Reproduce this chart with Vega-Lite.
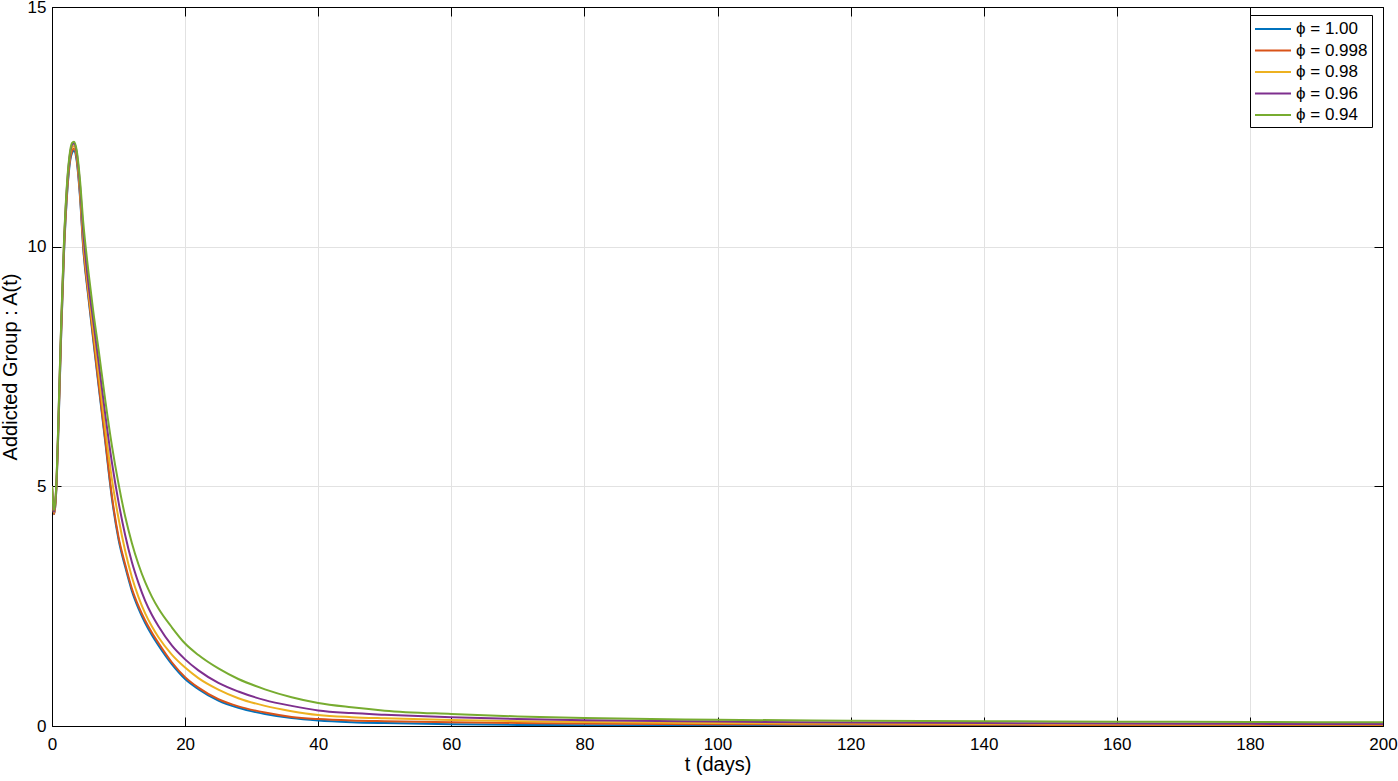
{
"$schema": "https://vega.github.io/schema/vega-lite/v6.json",
"width": 1331, "height": 719,
"autosize": {"type": "none"},
"padding": {"left": 52, "top": 7, "right": 15, "bottom": 55},
"background": "white",
"config": {
  "view": {"stroke": "black", "strokeWidth": 1},
  "font": "Liberation Sans",
  "axis": {"domainColor": "black", "tickColor": "black", "labelColor": "black", "titleColor": "black", "gridColor": "#e2e2e2", "labelFont": "Liberation Sans", "titleFont": "Liberation Sans", "titleFontWeight": "normal", "labelFontSize": 17, "titleFontSize": 20}
},
"data": {"values": [
{"s":"ϕ = 1.00","t":0,"A":5.0},{"s":"ϕ = 1.00","t":0.15,"A":4.6},{"s":"ϕ = 1.00","t":0.3,"A":4.42},{"s":"ϕ = 1.00","t":0.5,"A":4.6},{"s":"ϕ = 1.00","t":0.7,"A":5.08},{"s":"ϕ = 1.00","t":1.0,"A":6.35},{"s":"ϕ = 1.00","t":1.4,"A":8.25},{"s":"ϕ = 1.00","t":1.8,"A":9.85},{"s":"ϕ = 1.00","t":2.2,"A":10.95},{"s":"ϕ = 1.00","t":2.6,"A":11.65},{"s":"ϕ = 1.00","t":3.0,"A":11.95},{"s":"ϕ = 1.00","t":3.3,"A":12.0},{"s":"ϕ = 1.00","t":3.7,"A":11.8},{"s":"ϕ = 1.00","t":4.2,"A":11.05},{"s":"ϕ = 1.00","t":4.7,"A":9.95},{"s":"ϕ = 1.00","t":5.5,"A":8.9},{"s":"ϕ = 1.00","t":6.2,"A":8.05},{"s":"ϕ = 1.00","t":7.0,"A":7.1},{"s":"ϕ = 1.00","t":8.0,"A":5.93},{"s":"ϕ = 1.00","t":9.0,"A":4.75},{"s":"ϕ = 1.00","t":10,"A":3.89},{"s":"ϕ = 1.00","t":11,"A":3.32},{"s":"ϕ = 1.00","t":12,"A":2.82},{"s":"ϕ = 1.00","t":13,"A":2.45},{"s":"ϕ = 1.00","t":14,"A":2.15},{"s":"ϕ = 1.00","t":15,"A":1.9},{"s":"ϕ = 1.00","t":16,"A":1.68},{"s":"ϕ = 1.00","t":18,"A":1.29},{"s":"ϕ = 1.00","t":20,"A":0.98},{"s":"ϕ = 1.00","t":22,"A":0.77},{"s":"ϕ = 1.00","t":25,"A":0.53},{"s":"ϕ = 1.00","t":28,"A":0.38},{"s":"ϕ = 1.00","t":32,"A":0.25},{"s":"ϕ = 1.00","t":36,"A":0.165},{"s":"ϕ = 1.00","t":40,"A":0.115},{"s":"ϕ = 1.00","t":45,"A":0.08},{"s":"ϕ = 1.00","t":50,"A":0.06},{"s":"ϕ = 1.00","t":60,"A":0.035},{"s":"ϕ = 1.00","t":70,"A":0.022},{"s":"ϕ = 1.00","t":80,"A":0.015},{"s":"ϕ = 1.00","t":100,"A":0.008},{"s":"ϕ = 1.00","t":120,"A":0.005},{"s":"ϕ = 1.00","t":140,"A":0.004},{"s":"ϕ = 1.00","t":160,"A":0.003},{"s":"ϕ = 1.00","t":180,"A":0.002},{"s":"ϕ = 1.00","t":200,"A":0.002},
{"s":"ϕ = 0.998","t":0,"A":5.0},{"s":"ϕ = 0.998","t":0.15,"A":4.6},{"s":"ϕ = 0.998","t":0.3,"A":4.42},{"s":"ϕ = 0.998","t":0.5,"A":4.6},{"s":"ϕ = 0.998","t":0.7,"A":5.1},{"s":"ϕ = 0.998","t":1.0,"A":6.4},{"s":"ϕ = 0.998","t":1.4,"A":8.3},{"s":"ϕ = 0.998","t":1.8,"A":9.9},{"s":"ϕ = 0.998","t":2.2,"A":11.0},{"s":"ϕ = 0.998","t":2.6,"A":11.7},{"s":"ϕ = 0.998","t":3.0,"A":12.0},{"s":"ϕ = 0.998","t":3.3,"A":12.05},{"s":"ϕ = 0.998","t":3.7,"A":11.85},{"s":"ϕ = 0.998","t":4.2,"A":11.1},{"s":"ϕ = 0.998","t":4.7,"A":10.0},{"s":"ϕ = 0.998","t":5.5,"A":8.95},{"s":"ϕ = 0.998","t":6.2,"A":8.1},{"s":"ϕ = 0.998","t":7.0,"A":7.15},{"s":"ϕ = 0.998","t":8.0,"A":5.98},{"s":"ϕ = 0.998","t":9.0,"A":4.8},{"s":"ϕ = 0.998","t":10,"A":3.94},{"s":"ϕ = 0.998","t":11,"A":3.37},{"s":"ϕ = 0.998","t":12,"A":2.87},{"s":"ϕ = 0.998","t":13,"A":2.5},{"s":"ϕ = 0.998","t":14,"A":2.2},{"s":"ϕ = 0.998","t":15,"A":1.95},{"s":"ϕ = 0.998","t":16,"A":1.73},{"s":"ϕ = 0.998","t":18,"A":1.33},{"s":"ϕ = 0.998","t":20,"A":1.02},{"s":"ϕ = 0.998","t":22,"A":0.8},{"s":"ϕ = 0.998","t":25,"A":0.56},{"s":"ϕ = 0.998","t":28,"A":0.41},{"s":"ϕ = 0.998","t":32,"A":0.28},{"s":"ϕ = 0.998","t":36,"A":0.19},{"s":"ϕ = 0.998","t":40,"A":0.145},{"s":"ϕ = 0.998","t":45,"A":0.115},{"s":"ϕ = 0.998","t":50,"A":0.1},{"s":"ϕ = 0.998","t":60,"A":0.08},{"s":"ϕ = 0.998","t":70,"A":0.063},{"s":"ϕ = 0.998","t":80,"A":0.05},{"s":"ϕ = 0.998","t":100,"A":0.037},{"s":"ϕ = 0.998","t":120,"A":0.03},{"s":"ϕ = 0.998","t":140,"A":0.025},{"s":"ϕ = 0.998","t":160,"A":0.02},{"s":"ϕ = 0.998","t":180,"A":0.018},{"s":"ϕ = 0.998","t":200,"A":0.015},
{"s":"ϕ = 0.98","t":0,"A":5.0},{"s":"ϕ = 0.98","t":0.15,"A":4.62},{"s":"ϕ = 0.98","t":0.3,"A":4.45},{"s":"ϕ = 0.98","t":0.5,"A":4.65},{"s":"ϕ = 0.98","t":0.7,"A":5.15},{"s":"ϕ = 0.98","t":1.0,"A":6.5},{"s":"ϕ = 0.98","t":1.4,"A":8.4},{"s":"ϕ = 0.98","t":1.8,"A":10.0},{"s":"ϕ = 0.98","t":2.2,"A":11.1},{"s":"ϕ = 0.98","t":2.6,"A":11.78},{"s":"ϕ = 0.98","t":3.0,"A":12.07},{"s":"ϕ = 0.98","t":3.3,"A":12.1},{"s":"ϕ = 0.98","t":3.7,"A":11.92},{"s":"ϕ = 0.98","t":4.2,"A":11.2},{"s":"ϕ = 0.98","t":4.7,"A":10.15},{"s":"ϕ = 0.98","t":5.5,"A":9.05},{"s":"ϕ = 0.98","t":6.2,"A":8.25},{"s":"ϕ = 0.98","t":7.0,"A":7.35},{"s":"ϕ = 0.98","t":8.0,"A":6.2},{"s":"ϕ = 0.98","t":9.0,"A":5.15},{"s":"ϕ = 0.98","t":10,"A":4.33},{"s":"ϕ = 0.98","t":11,"A":3.65},{"s":"ϕ = 0.98","t":12,"A":3.11},{"s":"ϕ = 0.98","t":13,"A":2.69},{"s":"ϕ = 0.98","t":14,"A":2.35},{"s":"ϕ = 0.98","t":15,"A":2.08},{"s":"ϕ = 0.98","t":16,"A":1.85},{"s":"ϕ = 0.98","t":18,"A":1.49},{"s":"ϕ = 0.98","t":20,"A":1.22},{"s":"ϕ = 0.98","t":22,"A":1.0},{"s":"ϕ = 0.98","t":25,"A":0.76},{"s":"ϕ = 0.98","t":28,"A":0.58},{"s":"ϕ = 0.98","t":32,"A":0.42},{"s":"ϕ = 0.98","t":36,"A":0.31},{"s":"ϕ = 0.98","t":40,"A":0.23},{"s":"ϕ = 0.98","t":45,"A":0.185},{"s":"ϕ = 0.98","t":50,"A":0.16},{"s":"ϕ = 0.98","t":60,"A":0.125},{"s":"ϕ = 0.98","t":70,"A":0.1},{"s":"ϕ = 0.98","t":80,"A":0.082},{"s":"ϕ = 0.98","t":100,"A":0.062},{"s":"ϕ = 0.98","t":120,"A":0.05},{"s":"ϕ = 0.98","t":140,"A":0.042},{"s":"ϕ = 0.98","t":160,"A":0.036},{"s":"ϕ = 0.98","t":180,"A":0.032},{"s":"ϕ = 0.98","t":200,"A":0.03},
{"s":"ϕ = 0.96","t":0,"A":5.0},{"s":"ϕ = 0.96","t":0.15,"A":4.63},{"s":"ϕ = 0.96","t":0.3,"A":4.47},{"s":"ϕ = 0.96","t":0.5,"A":4.67},{"s":"ϕ = 0.96","t":0.7,"A":5.18},{"s":"ϕ = 0.96","t":1.0,"A":6.55},{"s":"ϕ = 0.96","t":1.4,"A":8.45},{"s":"ϕ = 0.96","t":1.8,"A":10.05},{"s":"ϕ = 0.96","t":2.2,"A":11.15},{"s":"ϕ = 0.96","t":2.6,"A":11.82},{"s":"ϕ = 0.96","t":3.0,"A":12.12},{"s":"ϕ = 0.96","t":3.3,"A":12.15},{"s":"ϕ = 0.96","t":3.7,"A":11.97},{"s":"ϕ = 0.96","t":4.2,"A":11.3},{"s":"ϕ = 0.96","t":4.7,"A":10.3},{"s":"ϕ = 0.96","t":5.5,"A":9.2},{"s":"ϕ = 0.96","t":6.2,"A":8.45},{"s":"ϕ = 0.96","t":7.0,"A":7.6},{"s":"ϕ = 0.96","t":8.0,"A":6.5},{"s":"ϕ = 0.96","t":9.0,"A":5.5},{"s":"ϕ = 0.96","t":10,"A":4.67},{"s":"ϕ = 0.96","t":11,"A":3.98},{"s":"ϕ = 0.96","t":12,"A":3.42},{"s":"ϕ = 0.96","t":13,"A":2.98},{"s":"ϕ = 0.96","t":14,"A":2.61},{"s":"ϕ = 0.96","t":15,"A":2.32},{"s":"ϕ = 0.96","t":16,"A":2.08},{"s":"ϕ = 0.96","t":18,"A":1.68},{"s":"ϕ = 0.96","t":20,"A":1.39},{"s":"ϕ = 0.96","t":22,"A":1.16},{"s":"ϕ = 0.96","t":25,"A":0.9},{"s":"ϕ = 0.96","t":28,"A":0.72},{"s":"ϕ = 0.96","t":32,"A":0.54},{"s":"ϕ = 0.96","t":36,"A":0.42},{"s":"ϕ = 0.96","t":40,"A":0.325},{"s":"ϕ = 0.96","t":45,"A":0.27},{"s":"ϕ = 0.96","t":50,"A":0.235},{"s":"ϕ = 0.96","t":60,"A":0.18},{"s":"ϕ = 0.96","t":70,"A":0.145},{"s":"ϕ = 0.96","t":80,"A":0.12},{"s":"ϕ = 0.96","t":100,"A":0.092},{"s":"ϕ = 0.96","t":120,"A":0.075},{"s":"ϕ = 0.96","t":140,"A":0.062},{"s":"ϕ = 0.96","t":160,"A":0.052},{"s":"ϕ = 0.96","t":180,"A":0.045},{"s":"ϕ = 0.96","t":200,"A":0.04},
{"s":"ϕ = 0.94","t":0,"A":5.0},{"s":"ϕ = 0.94","t":0.15,"A":4.65},{"s":"ϕ = 0.94","t":0.3,"A":4.5},{"s":"ϕ = 0.94","t":0.5,"A":4.7},{"s":"ϕ = 0.94","t":0.7,"A":5.2},{"s":"ϕ = 0.94","t":1.0,"A":6.6},{"s":"ϕ = 0.94","t":1.4,"A":8.5},{"s":"ϕ = 0.94","t":1.8,"A":10.1},{"s":"ϕ = 0.94","t":2.2,"A":11.2},{"s":"ϕ = 0.94","t":2.6,"A":11.87},{"s":"ϕ = 0.94","t":3.0,"A":12.16},{"s":"ϕ = 0.94","t":3.3,"A":12.19},{"s":"ϕ = 0.94","t":3.7,"A":12.02},{"s":"ϕ = 0.94","t":4.2,"A":11.4},{"s":"ϕ = 0.94","t":4.7,"A":10.5},{"s":"ϕ = 0.94","t":5.5,"A":9.45},{"s":"ϕ = 0.94","t":6.2,"A":8.65},{"s":"ϕ = 0.94","t":7.0,"A":7.85},{"s":"ϕ = 0.94","t":8.0,"A":6.8},{"s":"ϕ = 0.94","t":9.0,"A":5.85},{"s":"ϕ = 0.94","t":10,"A":5.05},{"s":"ϕ = 0.94","t":11,"A":4.37},{"s":"ϕ = 0.94","t":12,"A":3.82},{"s":"ϕ = 0.94","t":13,"A":3.37},{"s":"ϕ = 0.94","t":14,"A":3.0},{"s":"ϕ = 0.94","t":15,"A":2.7},{"s":"ϕ = 0.94","t":16,"A":2.45},{"s":"ϕ = 0.94","t":18,"A":2.06},{"s":"ϕ = 0.94","t":20,"A":1.72},{"s":"ϕ = 0.94","t":22,"A":1.48},{"s":"ϕ = 0.94","t":25,"A":1.2},{"s":"ϕ = 0.94","t":28,"A":0.98},{"s":"ϕ = 0.94","t":32,"A":0.765},{"s":"ϕ = 0.94","t":36,"A":0.6},{"s":"ϕ = 0.94","t":40,"A":0.48},{"s":"ϕ = 0.94","t":45,"A":0.39},{"s":"ϕ = 0.94","t":50,"A":0.32},{"s":"ϕ = 0.94","t":60,"A":0.25},{"s":"ϕ = 0.94","t":70,"A":0.2},{"s":"ϕ = 0.94","t":80,"A":0.165},{"s":"ϕ = 0.94","t":100,"A":0.13},{"s":"ϕ = 0.94","t":120,"A":0.11},{"s":"ϕ = 0.94","t":140,"A":0.1},{"s":"ϕ = 0.94","t":160,"A":0.09},{"s":"ϕ = 0.94","t":180,"A":0.083},{"s":"ϕ = 0.94","t":200,"A":0.077}
]},
"layer": [
  {
    "mark": {"type": "line", "strokeWidth": 2, "interpolate": "monotone", "clip": true},
    "encoding": {
      "x": {"field": "t", "type": "quantitative", "scale": {"domain": [0, 200], "nice": false, "zero": false},
            "axis": {"orient": "bottom", "values": [0,20,40,60,80,100,120,140,160,180,200], "title": "t (days)", "grid": true, "tickSize": -9, "labelPadding": 19, "titlePadding": 2, "labelFlush": false}},
      "y": {"field": "A", "type": "quantitative", "scale": {"domain": [0, 15], "nice": false},
            "axis": {"orient": "left", "values": [0,5,10,15], "title": "Addicted Group : A(t)", "grid": true, "tickSize": -9, "labelPadding": 15, "titlePadding": 7, "labelFlush": false}},
      "color": {"field": "s", "type": "nominal",
                "scale": {"domain": ["ϕ = 1.00", "ϕ = 0.998", "ϕ = 0.98", "ϕ = 0.96", "ϕ = 0.94"], "range": ["#0072BD", "#D95319", "#EDB120", "#7E2F8E", "#77AC30"]},
                "legend": {"title": null, "orient": "none", "legendX": 1198, "legendY": 8, "symbolType": "M-1,0H3", "symbolSize": 324, "symbolStrokeWidth": 2, "labelFontSize": 17, "labelFont": "Liberation Sans", "labelColor": "black", "labelOffset": 22, "rowPadding": 3.5, "padding": 4, "strokeColor": "black", "fillColor": "white", "cornerRadius": 0}}
    }
  },
  {
    "mark": {"type": "line", "opacity": 0},
    "encoding": {
      "x": {"field": "t", "type": "quantitative", "scale": {"domain": [0, 200], "nice": false},
            "axis": {"orient": "top", "values": [0,20,40,60,80,100,120,140,160,180,200], "labels": false, "title": null, "grid": false, "tickSize": -9, "domain": true}},
      "y": {"field": "A", "type": "quantitative", "scale": {"domain": [0, 15], "nice": false},
            "axis": {"orient": "right", "values": [0,5,10,15], "labels": false, "title": null, "grid": false, "tickSize": -9, "domain": true}}
    }
  }
],
"resolve": {"axis": {"x": "independent", "y": "independent"}}
}
